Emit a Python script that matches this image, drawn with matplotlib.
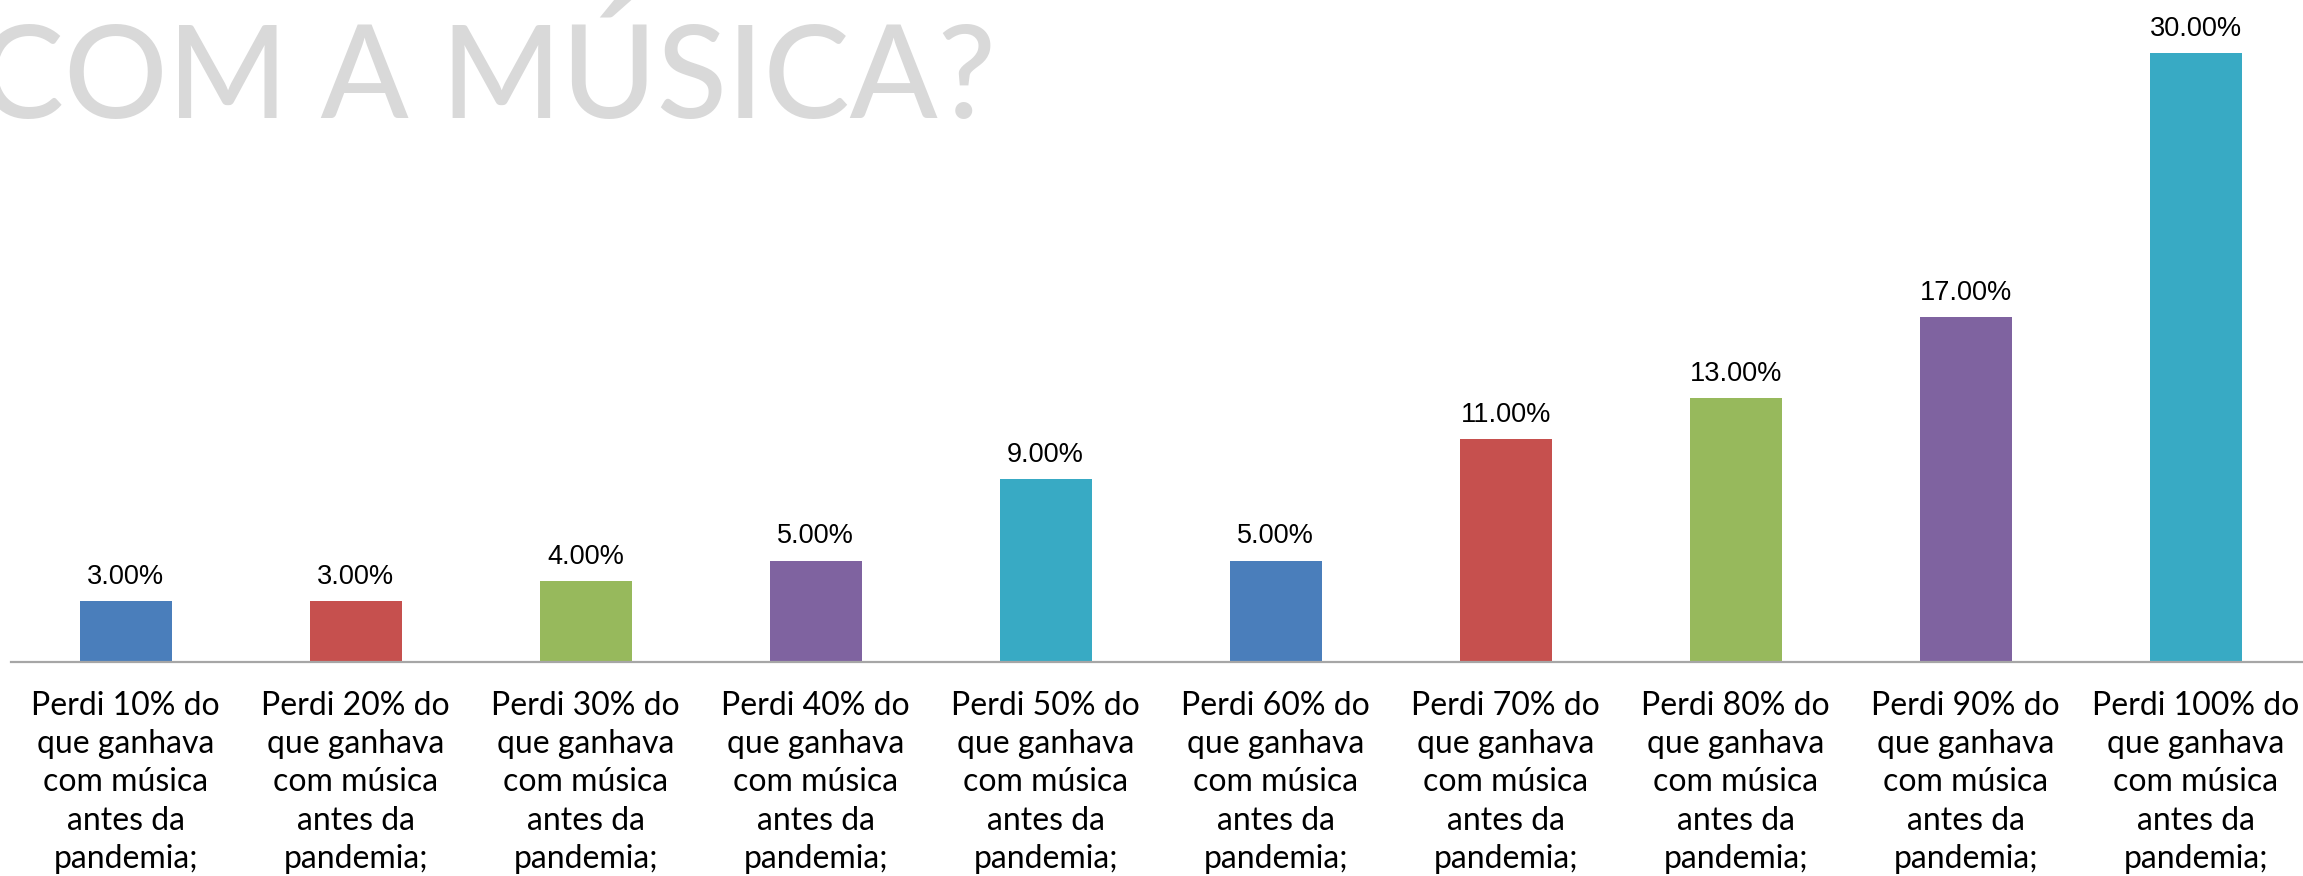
import matplotlib
matplotlib.use("Agg")
import matplotlib.pyplot as plt

categories = [
    "Perdi 10% do\nque ganhava\ncom música\nantes da\npandemia;",
    "Perdi 20% do\nque ganhava\ncom música\nantes da\npandemia;",
    "Perdi 30% do\nque ganhava\ncom música\nantes da\npandemia;",
    "Perdi 40% do\nque ganhava\ncom música\nantes da\npandemia;",
    "Perdi 50% do\nque ganhava\ncom música\nantes da\npandemia;",
    "Perdi 60% do\nque ganhava\ncom música\nantes da\npandemia;",
    "Perdi 70% do\nque ganhava\ncom música\nantes da\npandemia;",
    "Perdi 80% do\nque ganhava\ncom música\nantes da\npandemia;",
    "Perdi 90% do\nque ganhava\ncom música\nantes da\npandemia;",
    "Perdi 100% do\nque ganhava\ncom música\nantes da\npandemia;",
]
values = [3.0, 3.0, 4.0, 5.0, 9.0, 5.0, 11.0, 13.0, 17.0, 30.0]
value_labels = ["3.00%", "3.00%", "4.00%", "5.00%", "9.00%", "5.00%",
                "11.00%", "13.00%", "17.00%", "30.00%"]
colors = ["#4A7EBB", "#C6504E", "#97B95C", "#7F63A0", "#38AAC4",
          "#4A7EBB", "#C6504E", "#97B95C", "#7F63A0", "#38AAC4"]
title_text = "COM A MÚSICA?"

W, H = 2303, 876
fig = plt.figure(figsize=(W / 100, H / 100), dpi=100)
base_px = 662
ax = fig.add_axes([10.6 / W, (H - base_px) / H, 2300 / W, base_px / H])

x = list(range(len(values)))
ax.bar(x, values, width=0.40, color=colors, zorder=2)
ax.set_xlim(-0.5, len(values) - 0.5)
ax.set_ylim(0, base_px / 20.3)

for xi, v, lab in zip(x, values, value_labels):
    ax.annotate(lab, (xi, v), xytext=(0, 8), textcoords="offset points",
                ha="center", va="bottom", fontsize=19.5,
                family="Liberation Sans", color="#000000")

for s in ["top", "right", "left"]:
    ax.spines[s].set_visible(False)
ax.spines["bottom"].set_color("#A6A6A6")
ax.spines["bottom"].set_linewidth(1.6)
ax.set_yticks([])
ax.set_xticks(x)
ax.set_xticklabels(categories, fontsize=23, family="Lato", color="#000000",
                   linespacing=1.34)
ax.tick_params(axis="x", length=0, pad=21)

fig.text(-22 / W, 1 - 118 / H, title_text, fontsize=93, family="Lato",
         weight="medium", color="#D9D9D9", ha="left", va="baseline")

fig.savefig("out.png", dpi=100)
